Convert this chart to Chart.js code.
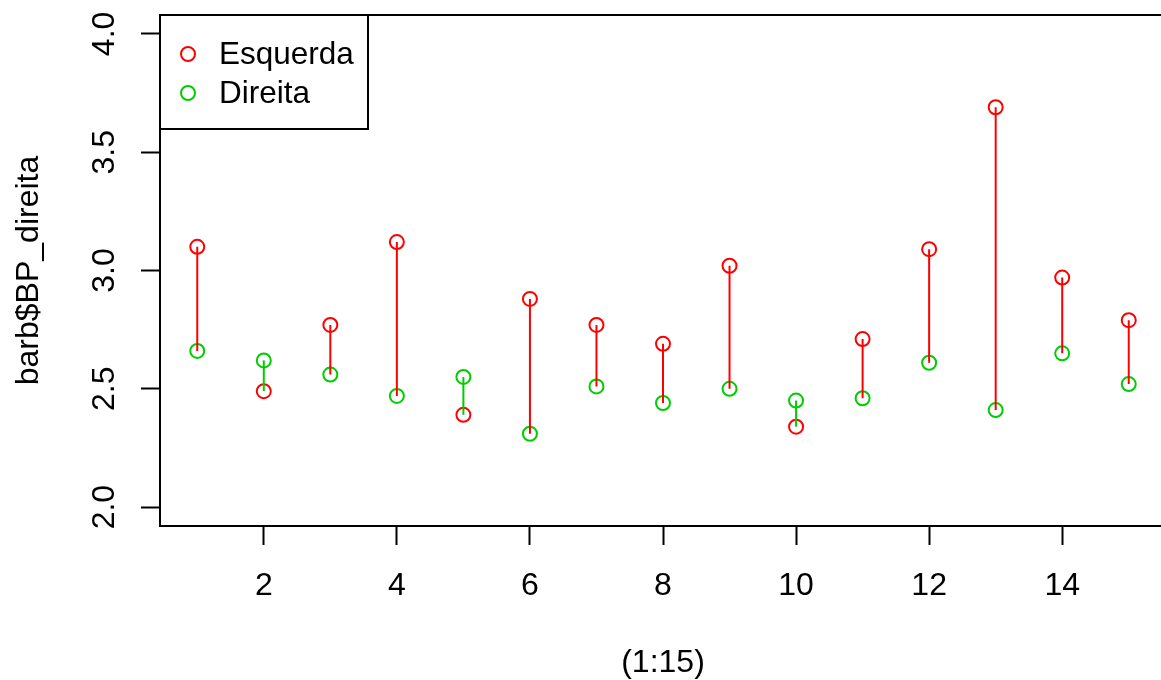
<!DOCTYPE html>
<html>
<head>
<meta charset="utf-8">
<script src="https://cdn.jsdelivr.net/npm/chart.js@4"></script>
<style>
  html, body { margin: 0; padding: 0; overflow: hidden; background: #fff; }
  #wrap { width: 1175px; height: 680px; }
</style>
</head>
<body>
<div id="wrap"><canvas id="chart" width="1175" height="680"></canvas></div>
<script>
"use strict";

// ─── Data ─────────────────────────────────────────────────────
const idx = [1, 2, 3, 4, 5, 6, 7, 8, 9, 10, 11, 12, 13, 14, 15];
const esquerda = [3.10, 2.49, 2.77, 3.12, 2.39, 2.88, 2.77, 2.69, 3.02, 2.34, 2.71, 3.09, 3.69, 2.97, 2.79];
const direita  = [2.66, 2.62, 2.56, 2.47, 2.55, 2.31, 2.51, 2.44, 2.50, 2.45, 2.46, 2.61, 2.41, 2.65, 2.52];
const xTicks = [2, 4, 6, 8, 10, 12, 14];
const yTicks = [2.0, 2.5, 3.0, 3.5, 4.0];
const seriesNames = ["Esquerda", "Direita"];
const xTitle = "(1:15)";
const yTitle = "barb$BP_direita";

const RED = "#FF0000";
const GREEN = "#00CD00";
const FONT = "'Liberation Sans', Arial, Helvetica, sans-serif";

Chart.defaults.font.family = FONT;
Chart.defaults.font.size = 32;
Chart.defaults.color = "#000";

// one little line per index, coloured by whichever side is higher
const segments = idx.map((x, i) => ({
  label: "_seg",
  data: [{ x, y: esquerda[i] }, { x, y: direita[i] }],
  showLine: true,
  borderColor: esquerda[i] > direita[i] ? RED : GREEN,
  borderWidth: 2,
  pointRadius: 0,
  pointHoverRadius: 0,
}));

const points = [esquerda, direita].map((vals, k) => ({
  label: seriesNames[k],
  data: idx.map((x, i) => ({ x, y: vals[i] })),
  showLine: false,
  borderColor: k === 0 ? RED : GREEN,
  backgroundColor: "rgba(0,0,0,0)",
  pointRadius: 7,
  pointHoverRadius: 7,
  pointBorderWidth: 2,
}));

// ─── Box round the plot + R-style legend ──────────────────────
const frame = {
  id: "frame",
  afterDraw(chart) {
    const { ctx, chartArea: a } = chart;
    ctx.save();
    ctx.strokeStyle = "#000";
    ctx.lineWidth = 2;
    ctx.strokeRect(a.left, a.top, a.right - a.left, a.bottom - a.top);

    // legend, top left inside the plot
    const w = 208, h = 114;
    ctx.fillStyle = "#fff";
    ctx.fillRect(a.left, a.top, w, h);
    ctx.strokeRect(a.left, a.top, w, h);
    ctx.font = `31.5px ${FONT}`;
    ctx.textBaseline = "middle";
    ctx.textAlign = "left";
    points.forEach((ds, k) => {
      const cy = a.top + 39 + k * 39;
      ctx.beginPath();
      ctx.arc(a.left + 28, cy, 7, 0, Math.PI * 2);
      ctx.strokeStyle = ds.borderColor;
      ctx.stroke();
      ctx.fillStyle = "#000";
      ctx.fillText(ds.label, a.left + 59, cy + 1);
    });
    ctx.restore();
  },
};

new Chart(document.getElementById("chart"), {
  type: "scatter",
  data: { datasets: [...segments, ...points] },
  options: {
    responsive: false,
    animation: false,
    events: [],
    layout: { padding: { top: 15, right: 7, left: 0, bottom: 0 } },
    plugins: { legend: { display: false }, tooltip: { enabled: false } },
    scales: {
      x: {
        type: "linear",
        min: 0.44,
        max: 15.56,
        afterBuildTicks: (s) => { s.ticks = xTicks.map((v) => ({ value: v })); },
        afterFit: (s) => { s.height = 154; s.paddingLeft = 0; s.paddingRight = 0; },
        border: { display: false },
        grid: { drawOnChartArea: false, drawTicks: true, tickLength: 19, tickWidth: 2, tickColor: "#000" },
        ticks: { padding: 22, maxRotation: 0, callback: (v) => String(v) },
        title: { display: true, text: xTitle, font: { size: 32, lineHeight: 1.05 }, padding: { top: 0, bottom: 0 } },
      },
      y: {
        type: "linear",
        min: 1.92,
        max: 4.08,
        afterBuildTicks: (s) => { s.ticks = yTicks.map((v) => ({ value: v })); },
        // rotated labels would otherwise pad the top of the plot
        afterFit: (s) => { s.width = 160; s.paddingTop = 0; s.paddingBottom = 0; },
        border: { display: false },
        grid: { drawOnChartArea: false, drawTicks: true, tickLength: 19, tickWidth: 2, tickColor: "#000" },
        ticks: {
          padding: 14,
          minRotation: 90,
          maxRotation: 90,
          crossAlign: "center",
          callback: (v) => v.toFixed(1),
        },
        title: { display: true, text: yTitle, padding: { top: 10, bottom: 0 } },
      },
    },
  },
  plugins: [frame],
});
</script>
</body>
</html>
